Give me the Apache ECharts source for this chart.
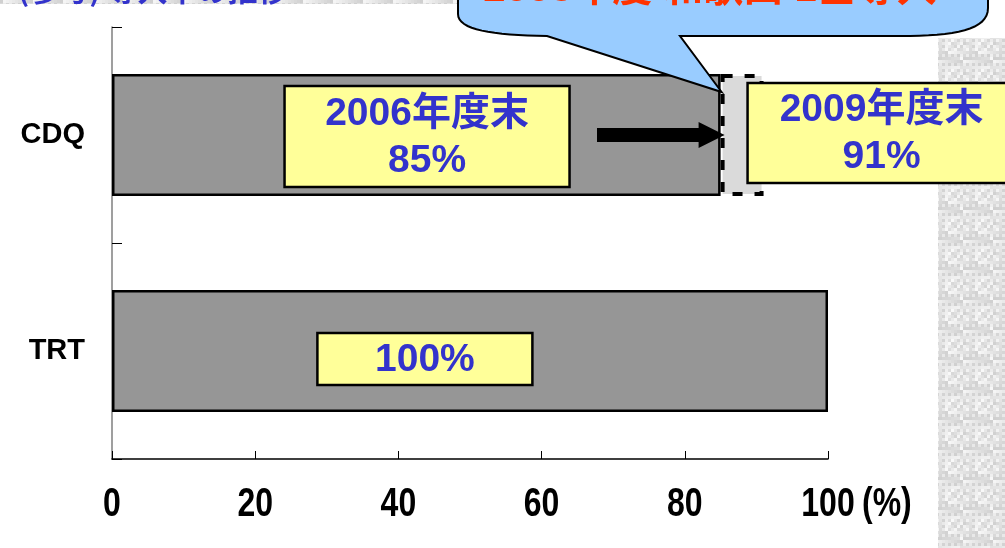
<!DOCTYPE html>
<html>
<head>
<meta charset="utf-8">
<script src="https://cdn.jsdelivr.net/npm/echarts@6/dist/echarts.min.js"></script>
<style>
  html, body { margin: 0; padding: 0; background: #ffffff; }
  #chart { width: 1005px; height: 548px; }
</style>
</head>
<body>
<div id="chart"></div>
<script>
// Penetration of CDQ and TRT (%)
const categories = ['CDQ', 'TRT'];
const rateEnd2006 = [85, 100];      // end of FY2006
const rateEnd2009 = [91, null];     // end of FY2009 (CDQ only)
const xTicks = [0, 20, 40, 60, 80, 100];
const xUnit = '(%)';
const yearBefore = 2006;
const yearAfter = 2009;
const calloutText = '2008年度 和歌山 1基導入';
const headerText = '(参考) 導入率の推移';

// extra share gained between the two years, stacked on top of the base bar
const rateGain = rateEnd2009.map((v, i) => (v == null ? '-' : v - rateEnd2006[i]));

// light mottled grey texture used on the page border
function makeTexture() {
  const c = document.createElement('canvas');
  c.width = 30; c.height = 30;
  const g = c.getContext('2d');
  for (let i = 0; i < 10; i++) {
    for (let j = 0; j < 10; j++) {
      const k = (i * 37 + j * 91 + ((i * j) % 7) * 23) % 41;
      const v = 208 + k;
      g.fillStyle = `rgb(${v},${v},${v})`;
      g.fillRect(i * 3, j * 3, 3, 3);
    }
  }
  return c;
}
const texture = makeTexture();

const chart = echarts.init(document.getElementById('chart'), null, { renderer: 'canvas' });

const option = {
  animation: false,
  backgroundColor: '#ffffff',
  grid: { left: 112, right: 177, top: 27, bottom: 89, containLabel: false },
  xAxis: {
    type: 'value',
    min: xTicks[0],
    max: xTicks[xTicks.length - 1],
    interval: xTicks[1] - xTicks[0],
    splitLine: { show: false },
    axisLine: { show: true, lineStyle: { color: '#000000', width: 1.5 } },
    axisTick: { show: true, inside: true, length: 8, lineStyle: { color: '#000000', width: 1 } },
    // tick labels are drawn below as condensed text at the axis tick positions
    axisLabel: { show: false }
  },
  yAxis: {
    type: 'category',
    data: categories,
    inverse: true,
    axisLine: { show: true, lineStyle: { color: '#7f7f7f', width: 1.5 } },
    axisTick: { show: true, inside: true, length: 10, lineStyle: { color: '#000000', width: 1 } },
    axisLabel: {
      margin: 27,
      color: '#000000',
      fontSize: 29,
      fontWeight: 'bold',
      fontFamily: "'Liberation Sans', Arial, sans-serif"
    }
  },
  series: [
    {
      name: 'base',
      type: 'bar',
      stack: 'rate',
      barWidth: 122,
      data: rateEnd2006,
      itemStyle: { color: '#969696', borderColor: '#000000', borderWidth: 2.5 },
      z: 2
    },
    {
      name: 'gain',
      type: 'bar',
      stack: 'rate',
      barWidth: 122,
      data: rateGain,
      itemStyle: {
        color: '#dadada',
        borderColor: '#000000',
        borderWidth: 4,
        borderType: [10, 12]
      },
      z: 3
    }
  ]
};
chart.setOption(option);

const px = v => chart.convertToPixel({ xAxisIndex: 0 }, v);
const py = c => chart.convertToPixel({ yAxisIndex: 0 }, c);

const boxFont = "bold 39px 'Liberation Sans', Arial, 'Noto Sans CJK JP', sans-serif";
function labelBox(cx, cy, w, h, text) {
  return [
    {
      type: 'rect', z: 20,
      shape: { x: cx - w / 2, y: cy - h / 2, width: w, height: h },
      style: { fill: '#ffff99', stroke: '#000000', lineWidth: 2.5 }
    },
    {
      type: 'text', z: 21,
      x: cx, y: cy + 1,
      style: {
        text: text,
        font: boxFont,
        fill: '#3333cc',
        align: 'center',
        verticalAlign: 'middle',
        lineHeight: 47
      }
    }
  ];
}

// sample a cubic bezier into polygon points
function cubic(p0, p1, p2, p3, n) {
  const pts = [];
  for (let i = 1; i <= n; i++) {
    const t = i / n, u = 1 - t;
    pts.push([
      u * u * u * p0[0] + 3 * u * u * t * p1[0] + 3 * u * t * t * p2[0] + t * t * t * p3[0],
      u * u * u * p0[1] + 3 * u * u * t * p1[1] + 3 * u * t * t * p2[1] + t * t * t * p3[1]
    ]);
  }
  return pts;
}

const cdqY = py(categories[0]);
const trtY = py(categories[1]);
const x85 = px(rateEnd2006[0]);
const x91 = px(rateEnd2009[0]);
const yBase = py(categories[1]) + (py(categories[1]) - py(categories[0])) / 2;

const bubblePts = [[458, -10], [458, 14]]
  .concat(cubic([458, 14], [458, 30], [492, 35], [547, 36], 16))
  .concat([[x85 + 1, 92], [680, 36], [900, 36]])
  .concat(cubic([900, 36], [955, 36], [988, 30], [988, 8], 16))
  .concat([[988, -10]]);

const tickLabelFont = "bold 40px 'Liberation Sans', Arial, sans-serif";
const tickLabels = xTicks.map(v => ({
  type: 'text', z: 5,
  x: px(v), y: yBase + 46,
  scaleX: 0.8,
  style: {
    text: String(v),
    font: tickLabelFont,
    fill: '#000000',
    align: 'center',
    verticalAlign: 'middle'
  }
}));
tickLabels.push({
  type: 'text', z: 5,
  x: px(xTicks[xTicks.length - 1]) + 34, y: yBase + 46,
  scaleX: 0.8,
  style: {
    text: xUnit,
    font: tickLabelFont,
    fill: '#000000',
    align: 'left',
    verticalAlign: 'middle'
  }
});

const graphics = [
  // textured page border
  {
    type: 'rect', z: 0,
    shape: { x: 938, y: 38, width: 67, height: 510 },
    style: { fill: { image: texture, repeat: 'repeat' } }
  },
  {
    type: 'rect', z: 0,
    shape: { x: 0, y: 0, width: 470, height: 4 },
    style: { fill: { image: texture, repeat: 'repeat' } }
  },
  {
    type: 'text', z: 1,
    x: 18, y: 5,
    style: {
      text: headerText,
      font: "bold 30px 'Noto Sans CJK JP', sans-serif",
      fill: '#3333cc', align: 'left', verticalAlign: 'bottom'
    }
  },
  // arrow from the 2006 label to the end of the CDQ bar
  {
    type: 'polygon', z: 15,
    shape: {
      points: [
        [597, cdqY - 7], [x85 - 22, cdqY - 7], [x85 - 22, cdqY - 13],
        [x85 + 4, cdqY], [x85 - 22, cdqY + 13], [x85 - 22, cdqY + 7], [597, cdqY + 7]
      ]
    },
    style: { fill: '#000000' }
  }
]
  .concat(labelBox(px(44), cdqY + 1.5, 285, 101, `${yearBefore}年度末\n${rateEnd2006[0]}%`))
  .concat(labelBox(x91 + 118, cdqY - 2, 268, 100, `${yearAfter}年度末\n${rateEnd2009[0]}%`))
  .concat(labelBox(px(43.7), trtY + 8, 215, 52, `${rateEnd2006[1]}%`))
  .concat([
    // speech bubble pointing at the gain segment
    {
      type: 'polygon', z: 30,
      shape: { points: bubblePts },
      style: { fill: '#99ccff', stroke: '#000000', lineWidth: 2 }
    },
    {
      type: 'text', z: 31,
      x: 710, y: 10,
      style: {
        text: calloutText,
        font: "bold 40px 'Liberation Sans', 'Noto Sans CJK JP', sans-serif",
        fill: '#ff3300', align: 'center', verticalAlign: 'bottom'
      }
    }
  ])
  .concat(tickLabels);

chart.setOption({ graphic: { elements: graphics } });
</script>
</body>
</html>
